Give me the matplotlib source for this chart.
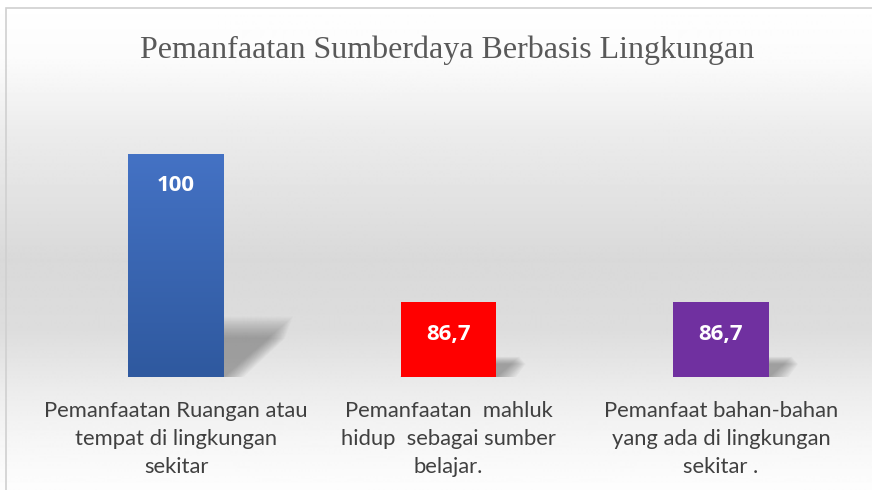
import numpy as np
import matplotlib.pyplot as plt
from matplotlib.patches import Rectangle, Polygon
from matplotlib.colors import LinearSegmentedColormap

# Data
categories = [
    "Pemanfaatan Ruangan atau\ntempat di lingkungan\nsekitar",
    "Pemanfaatan  mahluk\nhidup  sebagai sumber\nbelajar.",
    "Pemanfaat bahan-bahan\nyang ada di lingkungan\nsekitar .",
]
values = [100, 86.7, 86.7]
value_labels = ["100", "86,7", "86,7"]
bar_colors = ["#3B67B6", "#FF0000", "#7030A0"]
title = "Pemanfaatan Sumberdaya Berbasis Lingkungan"

y_min, y_max = 80, 105
W, H = 872, 490

fig = plt.figure(figsize=(W / 100, H / 100), dpi=100)

# background gradient
bg = fig.add_axes([0, 0, 1, 1], zorder=0)
bg.set_axis_off()
ys = np.arange(H)
stops_y = [0, 60, 130, 260, 330, 390, 440, 490]
stops_v = [255, 251, 236, 217, 221, 236, 246, 253]
grey = np.interp(ys, stops_y, stops_v) / 255.0
grad = np.repeat(grey[:, None], 2, axis=1)
bg.imshow(grad, cmap="gray", vmin=0, vmax=1, aspect="auto", extent=[0, 1, 0, 1])
bg.set_xlim(0, 1)
bg.set_ylim(0, 1)
# chart frame (cut off at right and bottom)
bg.add_patch(Rectangle((6 / W, -0.1), 1.2, 1 - 8 / H + 0.1, fill=False,
                       edgecolor="#d0d0d0", linewidth=1.2, transform=bg.transAxes))

fig.text(447 / W, 1 - 50 / H, title, ha="center", va="center",
         fontsize=23, color="#595959", family="Liberation Serif")

# plot area
px_per_unit = 223 / 20.0
ax_bottom = 377
ax_top = ax_bottom - (y_max - y_min) * px_per_unit
left = 176 - 272.5 * 0.5
ax = fig.add_axes([left / W, 1 - ax_bottom / H, 3 * 272.5 / W, (ax_bottom - ax_top) / H],
                  zorder=1)
ax.patch.set_alpha(0)
x = np.arange(len(values))
width = 0.352

# soft perspective shadows
for xi, v in zip(x, values):
    h = v - y_min
    dy = 0.27 * h
    dx = 0.31 * h * px_per_unit / 272.5
    for k in range(16):
        t = k / 15.0
        s = 0.12 * t
        poly = Polygon([(xi - width / 2, y_min), (xi + width / 2 + 0.6 * s, y_min),
                        (xi + width / 2 + dx * (1 - 0.3 * t) + s * 0.4, y_min + dy * (1 - 0.35 * t)),
                        (xi - width / 2 + dx * (1 - 0.3 * t), y_min + dy * (1 - 0.35 * t))],
                       closed=True, facecolor="#444444", edgecolor="none",
                       alpha=0.03, zorder=1)
        ax.add_patch(poly)

bars = ax.bar(x, [v - y_min for v in values], width=width, bottom=y_min,
              color=bar_colors, zorder=2)

# gradient on the first bar
blue_grad = np.linspace(0, 1, 100)[:, None]
cmap = LinearSegmentedColormap.from_list("blue", ["#4472C4", "#2F599F"])
im = ax.imshow(blue_grad, cmap=cmap, aspect="auto", zorder=3, origin="upper",
               extent=[x[0] - width / 2, x[0] + width / 2, y_min, values[0]])
im.set_clip_path(bars[0])

for xi, v, lab in zip(x, values, value_labels):
    ax.annotate(lab, (xi, v), xytext=(0, -23), textcoords="offset points",
                ha="center", va="center", color="white", fontsize=16,
                fontweight="bold", family="Open Sans", zorder=4)

ax.set_xlim(-0.5, 2.5)
ax.set_ylim(y_min, y_max)
ax.set_yticks([])
ax.set_xticks(x)
ax.set_xticklabels(categories, fontsize=15.8, color="#404040", family="Lato",
                   linespacing=1.5)
ax.tick_params(axis="x", length=0, pad=17)
for sp in ax.spines.values():
    sp.set_visible(False)

fig.savefig("out.png", dpi=100)
